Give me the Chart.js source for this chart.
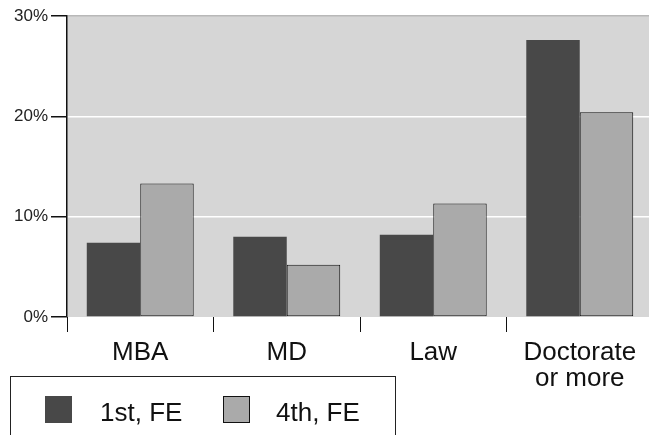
<!DOCTYPE html>
<html>
<head>
<meta charset="utf-8">
<script src="https://cdn.jsdelivr.net/npm/chart.js@4/dist/chart.umd.min.js"></script>
<style>
  html, body { margin: 0; padding: 0; background: #fff; overflow: hidden; }
  #wrap { position: relative; width: 649px; height: 435px; overflow: hidden; }
  #chart { position: absolute; left: 0; top: 0; }
  .legend {
    position: absolute; left: 10px; top: 376px; width: 386px; height: 70px;
    border: 1px solid #222; box-sizing: border-box;
    font-family: "Liberation Sans", Arial, sans-serif; font-size: 26px; color: #111;
  }
  .legend .sw { position: absolute; top: 19px; width: 27px; height: 27px; box-sizing: border-box; }
  .legend .lb { position: absolute; top: 22px; line-height: 26px; }
</style>
</head>
<body>
<div id="wrap">
  <canvas id="chart" width="660" height="435"></canvas>
  <div class="legend">
    <div class="sw" style="left:34px;background:#484848;"></div>
    <div class="lb" style="left:89px;">1st, FE</div>
    <div class="sw" style="left:212px;background:#aaaaaa;border:1px solid #111;"></div>
    <div class="lb" style="left:265px;">4th, FE</div>
  </div>
</div>
<script>
// categories and values (percent)
var categories = ["MBA", "MD", "Law", ["Doctorate", "or more"]];
var firstFE = [7.4, 8.0, 8.2, 27.6];
var fourthFE = [13.3, 5.2, 11.3, 20.4];
var yTicks = [0, 10, 20, 30];

// grey plot background
var plotBg = {
  id: 'plotBg',
  beforeDraw: function(chart) {
    var a = chart.chartArea, ctx = chart.ctx;
    ctx.save();
    ctx.fillStyle = '#d6d6d6';
    ctx.fillRect(a.left, a.top, a.right - a.left, a.bottom - a.top);
    ctx.restore();
  }
};

var ctx = document.getElementById('chart').getContext('2d');
var myChart = new Chart(ctx, {
  type: 'bar',
  data: {
    labels: categories,
    datasets: [
      { label: '1st, FE', data: firstFE, backgroundColor: '#484848', borderWidth: 0,
        categoryPercentage: 0.73, barPercentage: 1.0 },
      { label: '4th, FE', data: fourthFE, backgroundColor: '#aaaaaa', borderColor: '#111', borderWidth: 1,
        borderSkipped: false, categoryPercentage: 0.73, barPercentage: 1.0 }
    ]
  },
  options: {
    responsive: false,
    animation: false,
    layout: { padding: { top: 16, right: 7, left: 0, bottom: 0 } },
    plugins: { legend: { display: false }, tooltip: { enabled: false } },
    scales: {
      x: {
        offset: true,
        grid: { display: true, drawOnChartArea: false, drawTicks: true, tickLength: 15,
                tickColor: '#111', lineWidth: 1, offset: true },
        border: { display: false },
        ticks: { color: '#111', padding: 8,
                 font: { family: "Liberation Sans", size: 26, lineHeight: 1.0 } },
        afterFit: function(s) { s.height = 118; }
      },
      y: {
        min: 0, max: 30,
        afterBuildTicks: function(s) { s.ticks = yTicks.map(function(v) { return { value: v }; }); },
        grid: {
          color: function(c) { return c.tick.value === 30 ? '#b8b8b8' : (c.tick.value === 0 ? 'rgba(0,0,0,0)' : '#ffffff'); },
          lineWidth: 1.5, drawTicks: true, tickLength: 16, tickColor: '#111'
        },
        border: { display: true, color: '#111', width: 1.5 },
        ticks: { color: '#222', padding: 3,
                 font: { family: "Liberation Sans", size: 17 },
                 callback: function(v) { return v + '%'; } },
        afterFit: function(s) { s.width = 67; }
      }
    }
  },
  plugins: [plotBg]
});
</script>
</body>
</html>
